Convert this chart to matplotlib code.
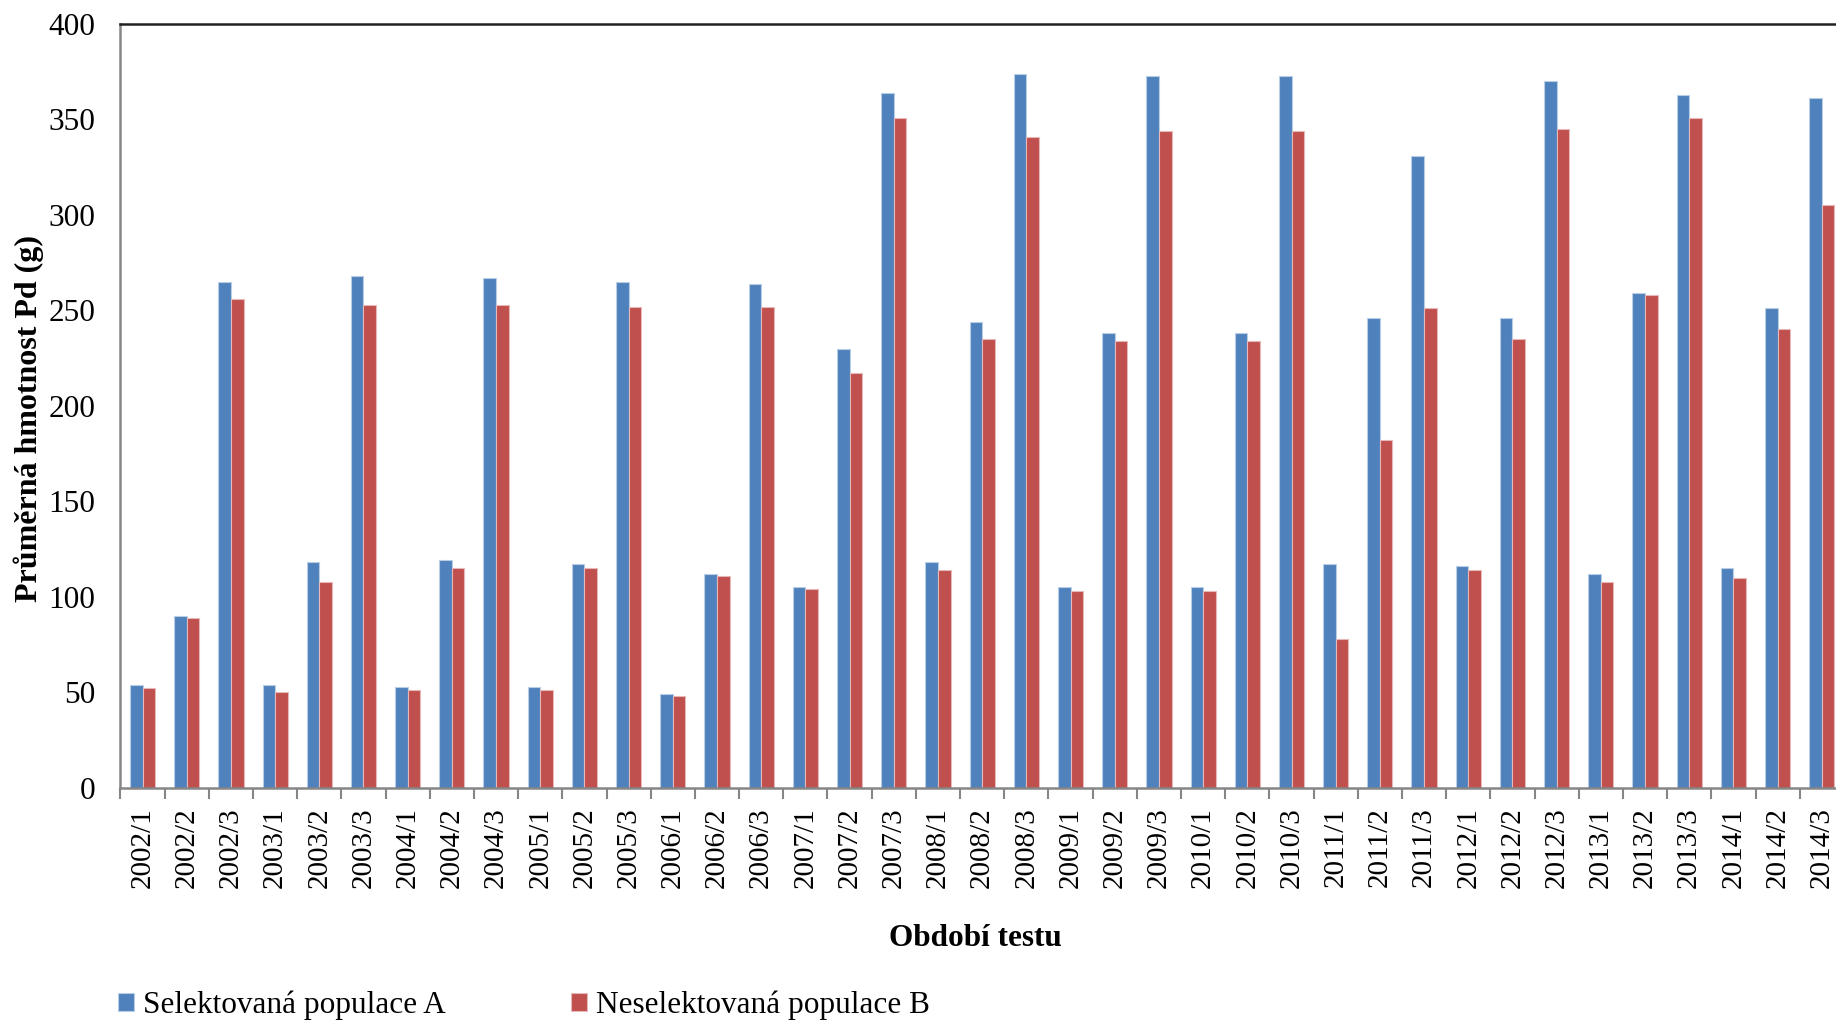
import matplotlib
matplotlib.use("Agg")
import matplotlib.pyplot as plt
import numpy as np

plt.rcParams['font.family'] = ['Liberation Serif', 'DejaVu Serif']

periods = ['2002/1', '2002/2', '2002/3', '2003/1', '2003/2', '2003/3',
           '2004/1', '2004/2', '2004/3', '2005/1', '2005/2', '2005/3',
           '2006/1', '2006/2', '2006/3', '2007/1', '2007/2', '2007/3',
           '2008/1', '2008/2', '2008/3', '2009/1', '2009/2', '2009/3',
           '2010/1', '2010/2', '2010/3', '2011/1', '2011/2', '2011/3',
           '2012/1', '2012/2', '2012/3', '2013/1', '2013/2', '2013/3',
           '2014/1', '2014/2', '2014/3']

popA = [54, 90, 265, 54, 118, 268,
        53, 119, 267, 53, 117, 265,
        49, 112, 264, 105, 230, 364,
        118, 244, 374, 105, 238, 373,
        105, 238, 373, 117, 246, 331,
        116, 246, 370, 112, 259, 363,
        115, 251, 361]

popB = [52, 89, 256, 50, 108, 253,
        51, 115, 253, 51, 115, 252,
        48, 111, 252, 104, 217, 351,
        114, 235, 341, 103, 234, 344,
        103, 234, 344, 78, 182, 251,
        114, 235, 345, 108, 258, 351,
        110, 240, 305]

labelA = 'Selektovaná populace A'
labelB = 'Neselektovaná populace B'

blue = '#4f81bd'
red = '#c0504d'

fig = plt.figure(figsize=(18.36, 10.21), dpi=100)
ax = fig.add_axes([0.0656, 0.2285, 0.9387, 0.748])

x = np.arange(len(periods))
w = 0.285
barsA = ax.bar(x - w / 2, popA, w, color=blue, edgecolor='#b9cde5', linewidth=0.8, label=labelA)
barsB = ax.bar(x + w / 2, popB, w, color=red, edgecolor='#e6b9b8', linewidth=0.8, label=labelB)

ax.set_ylim(0, 400)
ax.set_yticks(np.arange(0, 401, 50))
ax.set_xlim(-0.5, len(periods) - 0.5)
ax.set_xticks(x)
ax.set_xticklabels(periods, rotation=90, fontsize=21)
ax.set_xticks(np.arange(-0.5, len(periods), 1), minor=True)
ax.tick_params(axis='x', which='major', length=0, pad=14)
ax.tick_params(axis='x', which='minor', length=8, width=1.5, color='#868686', direction='out')
ax.tick_params(axis='y', length=0, pad=18, labelsize=22.5)

for side in ['left', 'bottom']:
    ax.spines[side].set_color('#868686')
    ax.spines[side].set_linewidth(1.8)
ax.spines['top'].set_color('#222222')
ax.spines['top'].set_linewidth(1.8)
ax.spines['right'].set_visible(False)

ax.set_ylabel('Průměrná hmotnost Pd (g)', fontsize=23, fontweight='bold')
ax.yaxis.set_label_coords(-0.0444, 0.484)
ax.set_xlabel('Období testu', fontsize=22.5, fontweight='bold')
ax.xaxis.set_label_coords(0.496, -0.178)

fig.legend(handles=[barsA, barsB], loc='center left',
           bbox_to_anchor=(0.056, 0.015), ncol=2, frameon=False,
           fontsize=22.5, handlelength=0.5, handleheight=0.5,
           handletextpad=0.3, columnspacing=4.0, borderpad=0)

fig.savefig('out.png', dpi=100)
